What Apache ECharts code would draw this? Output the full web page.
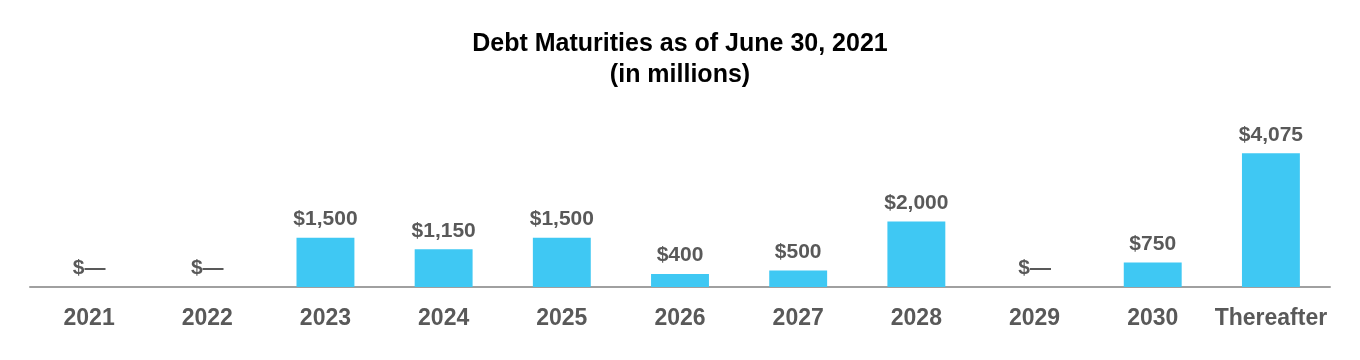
<!DOCTYPE html>
<html>
<head>
<meta charset="utf-8">
<script src="https://cdn.jsdelivr.net/npm/echarts@6/dist/echarts.min.js"></script>
<style>html,body{margin:0;padding:0;background:#fff;}#c{width:1360px;height:360px;}</style>
</head>
<body>
<div id="c"></div>
<script>
const categories = ['2021','2022','2023','2024','2025','2026','2027','2028','2029','2030','Thereafter'];
const maturities = [0, 0, 1500, 1150, 1500, 400, 500, 2000, 0, 750, 4075];
const titleText = 'Debt Maturities as of June 30, 2021\n(in millions)';

const fmt = v => v === 0 ? '$\u2014' : '$' + v.toLocaleString('en-US');
const FONT = 'Arial, "Liberation Sans", sans-serif';

const chart = echarts.init(document.getElementById('c'), null, {renderer: 'canvas'});
chart.setOption({
  animation: false,
  backgroundColor: '#ffffff',
  title: {
    text: titleText,
    left: 'center',
    top: 24,
    textStyle: {fontFamily: FONT, fontSize: 25, fontWeight: 'bold', color: '#000000', lineHeight: 31}
  },
  grid: {left: 30, right: 30, top: 123, bottom: 73, containLabel: false},
  xAxis: {
    type: 'category',
    data: categories,
    axisLine: {show: true, lineStyle: {color: '#a0a0a0', width: 2}},
    axisTick: {show: false},
    axisLabel: {fontFamily: FONT, fontSize: 23, fontWeight: 'bold', color: '#595959', margin: 20, interval: 0}
  },
  yAxis: {type: 'value', min: 0, max: 5000, show: false, splitLine: {show: false}},
  series: [{
    type: 'bar',
    data: maturities,
    barWidth: '49%',
    itemStyle: {color: '#3FC8F3'},
    label: {
      show: true,
      position: 'top',
      distance: 8,
      formatter: p => fmt(p.value),
      fontFamily: FONT, fontSize: 21, fontWeight: 'bold', color: '#595959'
    }
  }]
});
</script>
</body>
</html>
